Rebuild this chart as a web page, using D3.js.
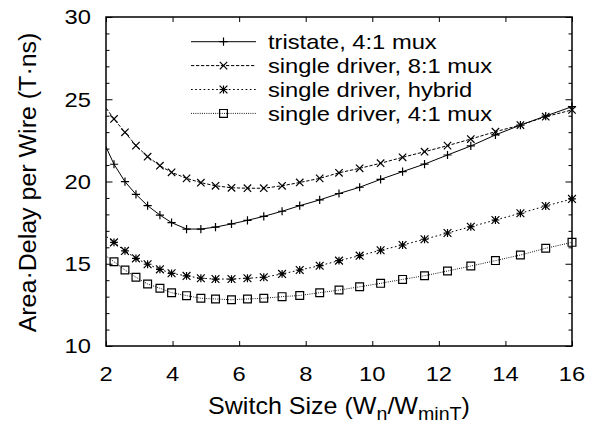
<!DOCTYPE html>
<html><head><meta charset="utf-8">
<script src="https://cdn.jsdelivr.net/npm/d3@7"></script>
<style>
html,body{margin:0;padding:0;background:#fff;}
svg{display:block;}
text{font-family:"Liberation Sans",Arial,Helvetica,sans-serif;fill:#000;}
</style></head><body>
<svg id="chart" width="598" height="423"></svg>
<script>
// ---- data ----
const xValues = [1.92, 2.24, 2.57, 2.90, 3.25, 3.62, 3.97, 4.42, 4.85, 5.29, 5.77, 6.25, 6.74, 7.29, 7.82, 8.42, 9.00, 9.62, 10.25, 10.91, 11.57, 12.26, 12.96, 13.70, 14.45, 15.21, 16.00];
const tristate4 = [22.45, 21.05, 19.99, 19.22, 18.53, 17.96, 17.50, 17.11, 17.11, 17.23, 17.42, 17.64, 17.88, 18.19, 18.53, 18.88, 19.27, 19.65, 20.13, 20.60, 21.06, 21.61, 22.16, 22.83, 23.43, 23.98, 24.55];
const single8 = [24.70, 23.80, 22.99, 22.18, 21.51, 20.96, 20.56, 20.19, 19.93, 19.74, 19.62, 19.59, 19.59, 19.74, 19.94, 20.19, 20.53, 20.80, 21.11, 21.47, 21.81, 22.18, 22.58, 23.03, 23.43, 23.94, 24.35];
const singleHybrid = [16.80, 16.30, 15.78, 15.33, 14.97, 14.66, 14.42, 14.26, 14.12, 14.07, 14.07, 14.12, 14.18, 14.38, 14.62, 14.88, 15.19, 15.49, 15.82, 16.14, 16.49, 16.87, 17.25, 17.66, 18.07, 18.51, 18.94];
const single4 = [15.60, 15.12, 14.62, 14.18, 13.77, 13.51, 13.24, 13.06, 12.90, 12.86, 12.81, 12.86, 12.90, 13.00, 13.07, 13.24, 13.40, 13.60, 13.81, 14.05, 14.27, 14.56, 14.86, 15.19, 15.53, 15.94, 16.30];
const seriesNames = ["tristate, 4:1 mux", "single driver, 8:1 mux", "single driver, hybrid", "single driver, 4:1 mux"];
const xTicks = [2, 4, 6, 8, 10, 12, 14, 16];
const yTicks = [10, 15, 20, 25, 30];
const yMinorTicks = [11, 12, 13, 14, 16, 17, 18, 19, 21, 22, 23, 24, 26, 27, 28, 29];
const yTitle = "Area\u00B7Delay per Wire (T\u00B7ns)";

// ---- layout ----
const W = 598, H = 423;
const L = 106, R = 572, T = 17, B = 346;
const svg = d3.select("#chart");
const x = d3.scaleLinear().domain([2, 16]).range([L, R]);
const y = d3.scaleLinear().domain([10, 30]).range([B, T]);
const FS = 21, SX = 1.13;

const styles = [
  {dash: null, marker: "plus"},
  {dash: "3.3,1.7", marker: "cross"},
  {dash: "1.7,2.5", marker: "star"},
  {dash: "0.9,1.3", marker: "square"}
];
const seriesVals = [tristate4, single8, singleHybrid, single4];

function markerPath(type, s) {
  const p = "M" + (-s) + ",0H" + s + "M0," + (-s) + "V" + s;
  const c = "M" + (-s) + "," + (-s) + "L" + s + "," + s + "M" + (-s) + "," + s + "L" + s + "," + (-s);
  if (type === "plus") return p;
  if (type === "cross") return c;
  if (type === "star") return p + c;
  return "M" + (-s) + "," + (-s) + "H" + s + "V" + s + "H" + (-s) + "Z";
}
const msize = {plus: 4.1, cross: 3.7, star: 3.9, square: 3.9};

// ---- clip ----
svg.append("defs").append("clipPath").attr("id", "plotclip")
  .append("rect").attr("x", L).attr("y", T).attr("width", R - L).attr("height", B - T);

// ---- ticks ----
const tickStyle = g => { g.select(".domain").remove(); g.selectAll("line").attr("stroke", "#000").attr("stroke-width", 1); };
svg.append("g").attr("transform", `translate(0,${B})`)
  .call(d3.axisBottom(x).tickValues(xTicks).tickSize(-5).tickFormat("")).call(tickStyle);
svg.append("g").attr("transform", `translate(0,${T})`)
  .call(d3.axisTop(x).tickValues(xTicks).tickSize(-5).tickFormat("")).call(tickStyle);
svg.append("g").attr("transform", `translate(${L},0)`)
  .call(d3.axisLeft(y).tickValues(yTicks).tickSize(-6.5).tickFormat("")).call(tickStyle);
svg.append("g").attr("transform", `translate(${L},0)`)
  .call(d3.axisLeft(y).tickValues(yMinorTicks).tickSize(-3.5).tickFormat("")).call(tickStyle);
svg.append("g").attr("transform", `translate(${R},0)`)
  .call(d3.axisRight(y).tickValues(yTicks).tickSize(-6.5).tickFormat("")).call(tickStyle);
svg.append("g").attr("transform", `translate(${R},0)`)
  .call(d3.axisRight(y).tickValues(yMinorTicks).tickSize(-3.5).tickFormat("")).call(tickStyle);

// tick labels
svg.append("g").selectAll("text").data(xTicks).join("text")
  .attr("transform", d => `translate(${x(d)},381) scale(${SX},1)`)
  .attr("text-anchor", "middle").attr("font-size", FS).text(d => d);
svg.append("g").selectAll("text").data(yTicks).join("text")
  .attr("transform", d => `translate(91,${y(d) + 7.4}) scale(${SX},1)`)
  .attr("text-anchor", "end").attr("font-size", FS).text(d => d);

// ---- series ----
const line = d3.line().x(d => x(d.x)).y(d => y(d.y));
seriesVals.forEach((vals, i) => {
  const pts = xValues.map((xv, k) => ({x: xv, y: vals[k]}));
  svg.append("path").datum(pts)
    .attr("clip-path", "url(#plotclip)")
    .attr("d", line).attr("fill", "none").attr("stroke", "#000")
    .attr("stroke-width", 1).attr("stroke-dasharray", styles[i].dash);
  const inside = pts.filter(d => d.x >= 2 && d.x <= 16);
  svg.append("g").selectAll("path").data(inside).join("path")
    .attr("transform", d => `translate(${x(d.x)},${y(d.y)})`)
    .attr("d", markerPath(styles[i].marker, msize[styles[i].marker]))
    .attr("fill", "none").attr("stroke", "#000").attr("stroke-width", 1.2);
});

// ---- frame ----
svg.append("rect").attr("x", L).attr("y", T).attr("width", R - L).attr("height", B - T)
  .attr("fill", "none").attr("stroke", "#000").attr("stroke-width", 1.5);

// ---- legend ----
const legX1 = 191, legX2 = 256, legTextX = 268, legY0 = 41.7, legDY = 23.9;
seriesNames.forEach((name, i) => {
  const ly = legY0 + i * legDY;
  const g = svg.append("g");
  g.append("line").attr("x1", legX1).attr("x2", legX2).attr("y1", ly).attr("y2", ly)
    .attr("stroke", "#000").attr("stroke-width", 1).attr("stroke-dasharray", styles[i].dash);
  g.append("path").attr("transform", `translate(${(legX1 + legX2) / 2},${ly})`)
    .attr("d", markerPath(styles[i].marker, msize[styles[i].marker]))
    .attr("fill", "none").attr("stroke", "#000").attr("stroke-width", 1.2);
  g.append("text").attr("transform", `translate(${legTextX},${ly + 7.4}) scale(${SX},1)`)
    .attr("font-size", FS).text(name);
});

// ---- axis titles ----
function fit(sel, target) {
  const w = sel.node().getComputedTextLength();
  return target / w;
}
const xt = svg.append("text").attr("text-anchor", "middle").attr("font-size", 23);
xt.append("tspan").text("Switch Size (W");
xt.append("tspan").attr("dy", 6).attr("font-size", 18).text("n");
xt.append("tspan").attr("dy", -6).text("/W");
xt.append("tspan").attr("dy", 6).attr("font-size", 18).text("minT");
xt.append("tspan").attr("dy", -6).text(")");
const kx = fit(xt, 262);
xt.attr("transform", `translate(${(L + R) / 2},414) scale(${kx},1)`);

const yt = svg.append("text").attr("text-anchor", "middle").attr("font-size", 23).text(yTitle);
const ky = fit(yt, 300);
yt.attr("transform", `translate(36,182.5) rotate(-90) scale(${ky},1)`);
</script>
</body></html>
